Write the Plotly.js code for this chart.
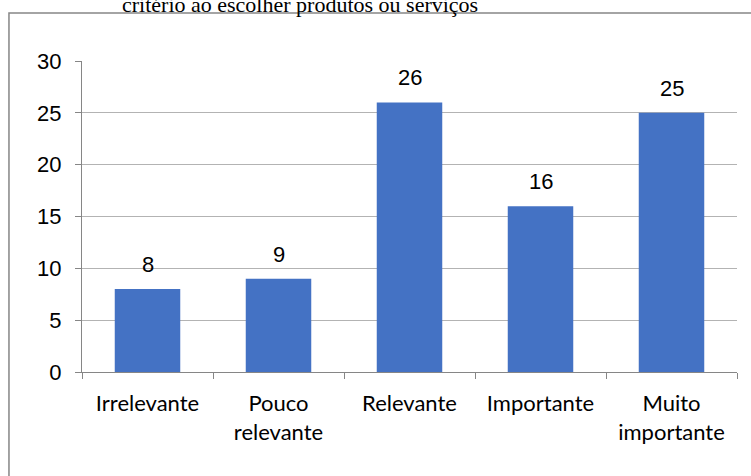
<!DOCTYPE html>
<html>
<head>
<meta charset="utf-8">
<script src="https://cdn.plot.ly/plotly-3.0.1.min.js"></script>
<style>
  html, body { margin: 0; padding: 0; background: #fff; }
  #chart { width: 751px; height: 476px; }
</style>
</head>
<body>
<div id="chart"></div>
<script>
// Categorias de relevância e número de respostas
const categories = ['Irrelevante', 'Pouco<br>relevante', 'Relevante', 'Importante', 'Muito<br>importante'];
const counts = [8, 9, 26, 16, 25];
const yTicks = [0, 5, 10, 15, 20, 25, 30];
const titleText = 'critério ao escolher produtos ou serviços';

const barColor = '#4472C4';
const axisGray = '#868686';
const gridGray = '#B3B3B3';
const numFont = { family: 'Liberation Sans, Arial, sans-serif', size: 22, color: '#000' };

const trace = {
  type: 'bar',
  x: categories,
  y: counts,
  marker: { color: barColor, line: { width: 0 } },
  hoverinfo: 'skip'
};

// Rótulos de valor acima de cada barra
const valueLabels = categories.map((c, i) => ({
  x: c, y: counts[i],
  xref: 'x', yref: 'y',
  text: String(counts[i]),
  showarrow: false,
  xanchor: 'center', yanchor: 'bottom',
  yshift: 10,
  font: numFont
}));

const layout = {
  width: 751,
  height: 476,
  margin: { l: 82, r: 14, t: 61, b: 104 },
  paper_bgcolor: '#fff',
  plot_bgcolor: '#fff',
  showlegend: false,
  bargap: 0.5,
  xaxis: {
    type: 'category',
    showline: true,
    linecolor: axisGray,
    linewidth: 1,
    ticks: 'outside',
    tickson: 'boundaries',
    ticklen: 6,
    tickcolor: axisGray,
    showgrid: false,
    ticklabelstandoff: 12,
    tickfont: { family: 'Lato, sans-serif', size: 22, color: '#000' }
  },
  yaxis: {
    range: [0, 30],
    tickvals: yTicks,
    showline: true,
    linecolor: axisGray,
    linewidth: 1,
    ticks: 'outside',
    ticklen: 6,
    tickcolor: axisGray,
    showgrid: true,
    gridcolor: gridGray,
    gridwidth: 1,
    zeroline: false,
    ticklabelstandoff: 9,
    tickfont: numFont
  },
  shapes: [{
    type: 'rect',
    xref: 'paper', yref: 'paper',
    x0: -0.1115, x1: 1.2,
    y0: -0.6, y1: 1.154,
    line: { color: axisGray, width: 1.5 },
    fillcolor: 'rgba(0,0,0,0)',
    layer: 'below'
  }],
  annotations: valueLabels.concat([{
    text: titleText,
    xref: 'paper', yref: 'paper',
    x: 0.333, y: 1.136,
    xanchor: 'center', yanchor: 'bottom',
    showarrow: false,
    font: { family: 'Liberation Serif, Times New Roman, serif', size: 22, color: '#000' }
  }])
};

Plotly.newPlot('chart', [trace], layout, { staticPlot: true, displayModeBar: false });
</script>
</body>
</html>
